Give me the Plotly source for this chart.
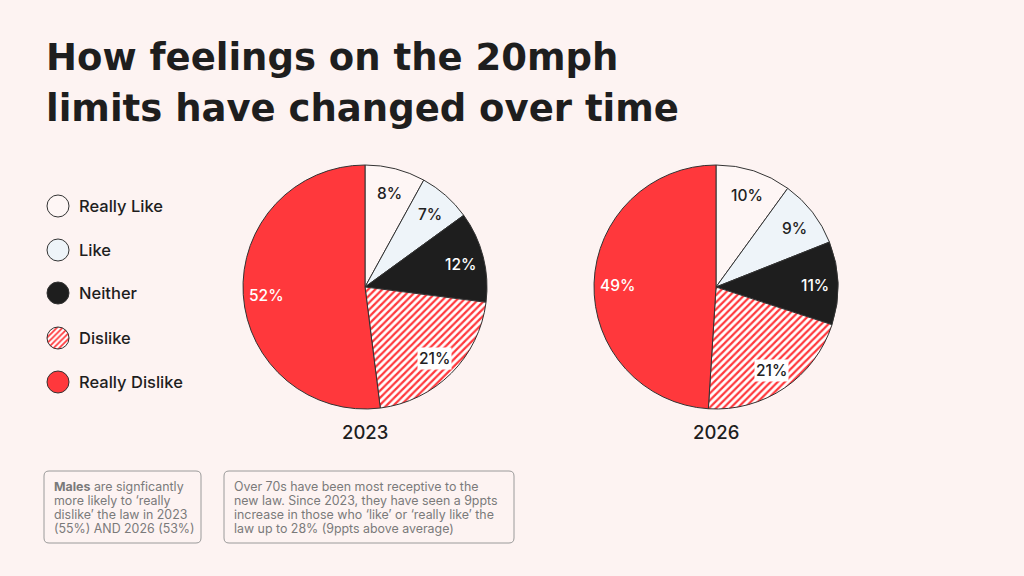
import math
import plotly.graph_objects as go

# ---- data ----
categories = ["Really Like", "Like", "Neither", "Dislike", "Really Dislike"]
values_2023 = [8, 7, 12, 21, 52]
values_2026 = [10, 9, 11, 21, 49]
years = ["2023", "2026"]

title_lines = ["How feelings on the 20mph", "limits have changed over time"]
note_1_lines = ["<b>Males</b> are signficantly", "more likely to ‘really",
                "dislike’ the law in 2023", "(55%) AND 2026 (53%)"]
note_2_lines = ["Over 70s have been most receptive to the",
                "new law. Since 2023, they have seen a 9ppts",
                "increase in those who ‘like’ or ‘really like’ the",
                "law up to 28% (9ppts above average)"]

# ---- style ----
W, H = 1024, 576
BG = "#FDF3F2"
RED = "#FF383C"
colors = ["#FEF6F5", "#EEF4F9", "#1E1E1E", "#FFFFFF", RED]
pat_shapes = ["", "", "", "/", ""]
label_colors = ["#222222", "#222222", "#FFFFFF", "#222222", "#FFFFFF"]
label_bg = [None, None, None, "#FFFFFF", None]
FONT = "Inter"
TITLE_FONT = "DejaVu Sans"
TXT = "#1E1E1E"

R = 122  # pie radius px
centers = [(365, 287), (716, 287)]

fig = go.Figure()
annotations = []


def px(x):
    return x / W


def py(y):
    return 1 - y / H


def pattern(size):
    return dict(shape=pat_shapes,
                fgcolor=[RED] * len(pat_shapes),
                bgcolor=colors, size=size, solidity=0.45)


for (cx, cy), vals, yr in zip(centers, [values_2023, values_2026], years):
    fig.add_trace(go.Pie(
        labels=categories, values=vals, sort=False, direction="clockwise", rotation=0,
        marker=dict(colors=colors, pattern=pattern(5),
                    line=dict(color="#333333", width=1)),
        textinfo="none", hoverinfo="label+percent", showlegend=False,
        domain=dict(x=[px(cx - R), px(cx + R)], y=[py(cy + R), py(cy - R)]),
    ))
    total = sum(vals)
    cum = 0
    for v, lc, bg in zip(vals, label_colors, label_bg):
        mid = (cum + v / 2) / total * 2 * math.pi
        cum += v
        lx = cx + 0.81 * R * math.sin(mid)
        ly = cy - 0.81 * R * math.cos(mid) + 2
        a = dict(x=px(lx), y=py(ly), xref="paper", yref="paper", text=f"{v}%",
                 showarrow=False, font=dict(family=FONT, size=15.5, color=lc, weight=500),
                 xanchor="center", yanchor="middle")
        if bg:
            a.update(bgcolor=bg, borderpad=1)
        annotations.append(a)
    annotations.append(dict(x=px(cx), y=py(432), xref="paper", yref="paper", text=yr,
                            showarrow=False, font=dict(family=FONT, size=18.5, color=TXT, weight=500),
                            xanchor="center", yanchor="middle"))

# legend made of tiny single-slice pies
leg_y = [206, 250, 293, 338, 382]
LR = 11
for i, (cat, ly) in enumerate(zip(categories, leg_y)):
    fig.add_trace(go.Pie(
        labels=[cat], values=[1], sort=False, textinfo="none", hoverinfo="label",
        showlegend=False,
        marker=dict(colors=[colors[i]],
                    pattern=dict(shape=[pat_shapes[i]], fgcolor=[RED], bgcolor=[colors[i]],
                                 size=4, solidity=0.45),
                    line=dict(color="#333333", width=1)),
        domain=dict(x=[px(58 - LR), px(58 + LR)], y=[py(ly + LR), py(ly - LR)]),
    ))
    annotations.append(dict(x=px(77), y=py(ly), xref="paper", yref="paper", text=cat,
                            showarrow=False, font=dict(family=FONT, size=16.5, color=TXT, weight=500),
                            xanchor="left", yanchor="middle"))

# title
for i, line in enumerate(title_lines):
    annotations.append(dict(x=px(44), y=py(58 + i * 50), xref="paper", yref="paper", text=line,
                            showarrow=False, font=dict(family=TITLE_FONT, size=37, color=TXT, weight=700),
                            xanchor="left", yanchor="middle"))


# notes boxes
def rounded(x0, y0, x1, y1, r=5):
    rx, ry = r / W, r / H
    X0, X1 = px(x0), px(x1)
    Y0, Y1 = py(y1), py(y0)  # bottom, top
    return (f"M {X0+rx},{Y1} L {X1-rx},{Y1} Q {X1},{Y1} {X1},{Y1-ry} "
            f"L {X1},{Y0+ry} Q {X1},{Y0} {X1-rx},{Y0} L {X0+rx},{Y0} "
            f"Q {X0},{Y0} {X0},{Y0+ry} L {X0},{Y1-ry} Q {X0},{Y1} {X0+rx},{Y1} Z")


shapes = []
for (x0, x1), lines in zip([(44, 201), (224, 514)], [note_1_lines, note_2_lines]):
    shapes.append(dict(type="path", xref="paper", yref="paper", path=rounded(x0, 471, x1, 543),
                       line=dict(color="#9A9A9A", width=1), fillcolor="rgba(0,0,0,0)"))
    for j, txt in enumerate(lines):
        annotations.append(dict(x=px(x0 + 8), y=py(486 + 14 * j), xref="paper", yref="paper",
                                text=txt, showarrow=False, align="left",
                                font=dict(family=FONT, size=12.4, color="#7A7A7A"),
                                xanchor="left", yanchor="middle"))

fig.update_layout(
    width=W, height=H, margin=dict(l=0, r=0, t=0, b=0),
    paper_bgcolor=BG, plot_bgcolor=BG,
    annotations=annotations, shapes=shapes, showlegend=False,
)
fig.write_html("out.html")
